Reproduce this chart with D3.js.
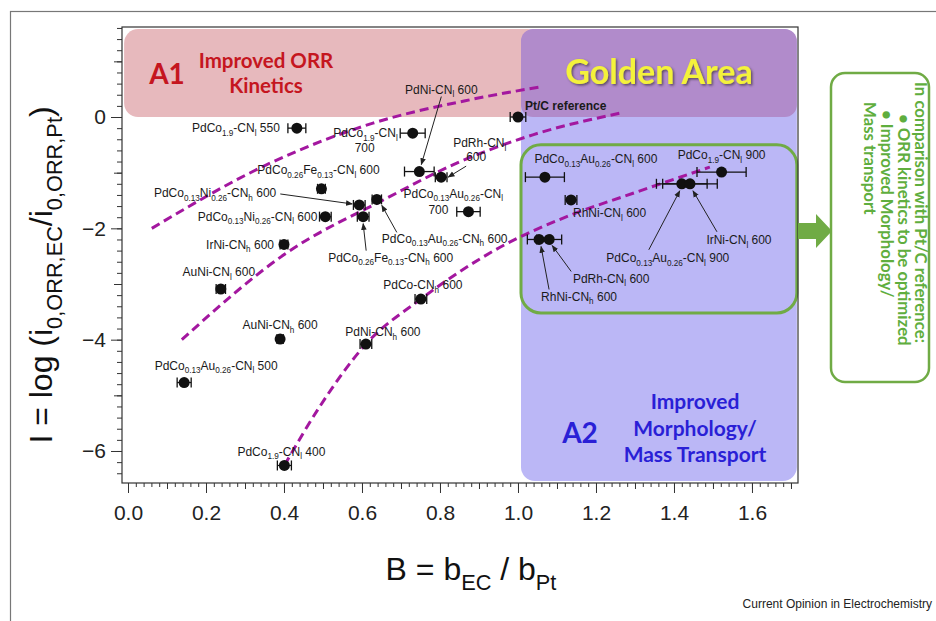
<!DOCTYPE html>
<html>
<head>
<meta charset="utf-8">
<script src="https://cdn.jsdelivr.net/npm/d3@7"></script>
<style>
  body { margin: 0; background: #fff; }
  svg text { font-family: "Liberation Sans", Arial, sans-serif; }
  .note { font-family: Lato, "Open Sans", sans-serif; font-weight: bold; }
</style>
</head>
<body>
<svg width="936" height="621"></svg>
<script>
// catalysts, {..} = subscript, \n = second line
let names = [
  'PdCo{1.9}-CN{l} 550', 'PdCo{1.9}-CN{l}\n700', 'PdNi-CN{l} 600', 'PdRh-CN{l}\n600',
  'PdCo{0.26}Fe{0.13}-CN{l} 600', 'PdCo{0.13}Ni{0.26}-CN{h} 600', 'PdCo{0.13}Au{0.26}-CN{h} 600',
  'PdCo{0.13}Ni{0.26}-CN{l} 600', 'PdCo{0.26}Fe{0.13}-CN{h} 600', 'PdCo{0.13}Au{0.26}-CN{l}\n700',
  'IrNi-CN{h} 600', 'AuNi-CN{l} 600', 'PdCo-CN{h} 600', 'AuNi-CN{h} 600', 'PdNi-CN{h} 600',
  'PdCo{0.13}Au{0.26}-CN{l} 500', 'PdCo{1.9}-CN{l} 400', 'Pt/C reference',
  'PdCo{0.13}Au{0.26}-CN{l} 600', 'RhNi-CN{l} 600', 'PdCo{1.9}-CN{l} 900',
  'PdCo{0.13}Au{0.26}-CN{l} 900', 'IrNi-CN{l} 600', 'RhNi-CN{h} 600', 'PdRh-CN{l} 600'
];
// B = b_EC / b_Pt
let bValues = [0.433, 0.730, 0.747, 0.803, 0.496, 0.593, 0.638, 0.506, 0.603, 0.873,
               0.400, 0.238, 0.751, 0.390, 0.610, 0.144, 0.401, 1.000,
               1.069, 1.136, 1.522, 1.420, 1.441, 1.054, 1.080];
// I = log(i0 ratio)
let iValues = [-0.20, -0.29, -0.98, -1.08, -1.29, -1.58, -1.48, -1.79, -1.79, -1.70,
               -2.29, -3.09, -3.27, -3.99, -4.08, -4.77, -6.26, 0.00,
               -1.08, -1.49, -0.99, -1.20, -1.20, -2.20, -2.20];
// horizontal error (+/-) on B
let bErrors = [0.023, 0.032, 0.038, 0.015, 0.010, 0.015, 0.012, 0.015, 0.015, 0.030,
               0.010, 0.012, 0.015, 0.008, 0.015, 0.018, 0.018, 0.020,
               0.050, 0.015, 0.063, 0.065, 0.070, 0.030, 0.032];

// dashed trend lines [B, I]
let trend1 = [[0.061, -2.0], [0.364, -0.83], [0.628, -0.11], [0.877, 0.31], [1.056, 0.54]];
let trend2 = [[0.138, -4.0], [0.407, -2.44], [0.663, -1.46], [0.833, -0.86], [1.038, -0.32], [1.262, 0.07]];
let trend3 = [[0.401, -6.26], [0.49, -5.22], [0.61, -4.08], [0.751, -3.27], [0.954, -2.34],
              [1.125, -1.79], [1.295, -1.37], [1.492, -0.90]];

let xTicks = [0, 0.2, 0.4, 0.6, 0.8, 1.0, 1.2, 1.4, 1.6];
let yTicks = [0, -2, -4, -6];

// label placement: per line [dx, dy, anchor] from the dot, optional arrow [x1,y1,x2,y2]
let labelLayout = [
  {lines: [[-17, 0, 'end']]},
  {lines: [[-15, 0, 'end'], [-48, 15, 'middle']]},
  {lines: [[22, -82, 'middle']], arrow: [22, -75, 2, -7]},
  {lines: [[12, -34, 'start'], [35, -20, 'middle']], arrow: [25, -11, 7, 0]},
  {lines: [[-3, -19, 'middle']]},
  {lines: [[-83, -12, 'end']], arrow: [-79, -11, -7, -1]},
  {lines: [[5, 39, 'start']], arrow: [20, 33, 5, 6]},
  {lines: [[-8, 0, 'end']]},
  {lines: [[-35, 41, 'start']], arrow: [3, 34, 0, 7]},
  {lines: [[-65, -18, 'start'], [-30, -2, 'middle']]},
  {lines: [[-10, 0, 'end']]},
  {lines: [[-2, -17, 'middle']]},
  {lines: [[2, -14, 'middle']]},
  {lines: [[0, -14, 'middle']]},
  {lines: [[17, -12, 'middle']]},
  {lines: [[32, -17, 'middle']]},
  {lines: [[-3, -14, 'middle']]},
  {lines: [[7, -11, 'start']], bold: true},
  {lines: [[51, -18, 'middle']]},
  {lines: [[2, 13, 'start']]},
  {lines: [[0, -17, 'middle']]},
  {lines: [[-14, 74, 'middle']], arrow: [-33, 66, -2, 7]},
  {lines: [[49, 56, 'middle']], arrow: [27, 48, 3, 7]},
  {lines: [[40, 57, 'middle']], arrow: [10, 50, 2, 7]},
  {lines: [[62, 39, 'middle']], arrow: [22, 32, 3, 6]}
];

let svg = d3.select('svg');
let margin = {top: 27, right: 138, bottom: 138, left: 122},
    width = +svg.attr('width') - margin.left - margin.right,
    height = +svg.attr('height') - margin.top - margin.bottom;

// outer figure border
svg.append('rect').attr('x', 10.5).attr('y', 11.5).attr('width', 1000).attr('height', 1000)
  .attr('fill', 'none').attr('stroke', '#777').attr('stroke-width', 1.2);

let defs = svg.append('defs');
defs.append('marker').attr('id', 'head').attr('viewBox', '0 0 10 10')
  .attr('refX', 9).attr('refY', 5).attr('markerWidth', 7).attr('markerHeight', 7)
  .attr('orient', 'auto')
  .append('path').attr('d', 'M0,1 L10,5 L0,9 Z').attr('fill', '#222');
let shadow = defs.append('filter').attr('id', 'shadow');
shadow.append('feDropShadow').attr('dx', 1.5).attr('dy', 1.5).attr('stdDeviation', 0.8)
  .attr('flood-color', '#4a3a4a').attr('flood-opacity', 0.8);

let g = svg.append('g').attr('transform', `translate(${margin.left},${margin.top})`);

let x = d3.scaleLinear().domain([-0.0154, 1.718]).range([0, width]);
let y = d3.scaleLinear().domain([-6.575, 1.617]).range([height, 0]);

// shaded regions
let rL = x(1.0077), rR = x(1.715), rTop = y(1.58), rZero = y(0);
g.append('rect').attr('x', x(-0.01)).attr('y', rTop).attr('width', x(1.06) - x(-0.01))
  .attr('height', rZero - rTop).attr('rx', 14).attr('fill', '#e7b9bd');
g.append('rect').attr('x', rL).attr('y', rTop).attr('width', rR - rL)
  .attr('height', y(-6.54) - rTop).attr('rx', 14).attr('fill', '#bbb7f6');
g.append('rect').attr('x', rL).attr('y', rTop).attr('width', rR - rL)
  .attr('height', rZero - rTop).attr('rx', 12).attr('fill', '#b18bcb');
g.append('rect').attr('x', rL).attr('y', y(-0.5)).attr('width', rR - rL)
  .attr('height', y(-3.52) - y(-0.5)).attr('rx', 20)
  .attr('fill', 'none').attr('stroke', '#70ab45').attr('stroke-width', 3);

// axes with major / medium / minor ticks
function ticksLeft(vals, size) {
  return d3.axisLeft(y).tickValues(vals).tickSize(size).tickFormat('');
}
function ticksBottom(vals, size) {
  return d3.axisBottom(x).tickValues(vals).tickSize(size).tickFormat('');
}
let yMinor = d3.range(-32, 9).map(v => v / 5);
let xMinor = d3.range(0, 86).map(v => v / 50);
let xMid = d3.range(0, 18).map(v => v / 10);
[ticksLeft(yMinor, 5), ticksLeft([-1, -3, -5, 1], 8)].forEach(a =>
  g.append('g').call(a).call(s => s.select('.domain').remove()));
[ticksBottom(xMinor, 4), ticksBottom(xMid, 6)].forEach(a =>
  g.append('g').attr('transform', `translate(0,${height})`).call(a)
    .call(s => s.select('.domain').remove()));

g.append('g')
  .call(d3.axisLeft(y).tickValues(yTicks).tickSize(11).tickPadding(5).tickFormat(d3.format('d')))
  .call(s => s.select('.domain').remove())
  .selectAll('text').attr('font-size', 21).attr('fill', '#222')
  .attr('font-family', '"Liberation Sans", Arial, sans-serif');
g.append('g').attr('transform', `translate(0,${height})`)
  .call(d3.axisBottom(x).tickValues(xTicks).tickSize(10).tickPadding(12).tickFormat(d3.format('.1f')))
  .call(s => s.select('.domain').remove())
  .selectAll('text').attr('font-size', 21).attr('fill', '#222')
  .attr('font-family', '"Liberation Sans", Arial, sans-serif');
g.selectAll('.tick line').attr('stroke', '#333');

g.append('rect').attr('width', width).attr('height', height)
  .attr('fill', 'none').attr('stroke', '#333').attr('stroke-width', 1.2);

// region captions
let note = (tx, ty, str, size, color) => g.append('text').attr('class', 'note')
  .attr('x', tx).attr('y', ty).attr('text-anchor', 'middle').attr('dominant-baseline', 'central')
  .attr('font-size', size).attr('fill', color).text(str);
note(45, 46, 'A1', 28, '#c5161f');
note(144, 33, 'Improved ORR', 20.5, '#c5161f');
note(144, 58, 'Kinetics', 20.5, '#c5161f');
note(537, 43, 'Golden Area', 34, '#f4f23a').attr('filter', 'url(#shadow)');
note(458, 405, 'A2', 28, '#2a1fd6');
note(573, 373, 'Improved', 21, '#2a1fd6');
note(573, 400, 'Morphology/', 21, '#2a1fd6');
note(573, 426, 'Mass Transport', 21, '#2a1fd6');

// dashed trend lines
let line = d3.line().x(d => x(d[0])).y(d => y(d[1])).curve(d3.curveMonotoneX);
[trend1, trend2, trend3].forEach(t =>
  g.append('path').datum(t).attr('d', line).attr('fill', 'none')
    .attr('stroke', '#a3179f').attr('stroke-width', 3).attr('stroke-dasharray', '9,5'));

// error bars and points
let pts = names.map((n, i) => ({name: n, b: bValues[i], v: iValues[i], e: bErrors[i], lay: labelLayout[i]}));
let bars = g.append('g').attr('stroke', '#111').attr('stroke-width', 1.3);
pts.forEach(d => {
  let cy = y(d.v), x1 = x(d.b - d.e), x2 = x(d.b + d.e);
  bars.append('line').attr('x1', x1).attr('x2', x2).attr('y1', cy).attr('y2', cy);
  [x1, x2].forEach(cx => bars.append('line').attr('x1', cx).attr('x2', cx)
    .attr('y1', cy - 5).attr('y2', cy + 5));
});
g.selectAll('circle.pt').data(pts).enter().append('circle').attr('class', 'pt')
  .attr('cx', d => x(d.b)).attr('cy', d => y(d.v)).attr('r', 5.5).attr('fill', '#111');

// labels with subscripts
function rich(sel, str, size) {
  let shift = 0;
  str.split(/(\{[^}]*\})/).filter(s => s.length).forEach(part => {
    let sub = part[0] === '{';
    let target = sub ? size * 0.3 : 0;
    sel.append('tspan').attr('dy', target - shift)
      .attr('font-size', sub ? size * 0.68 : size)
      .text(sub ? part.slice(1, -1) : part);
    shift = target;
  });
}
pts.forEach(d => {
  let px = x(d.b), py = y(d.v);
  d.name.split('\n').forEach((txt, k) => {
    let [dx, dy, anchor] = d.lay.lines[k];
    let t = g.append('text').attr('x', px + dx).attr('y', py + dy + 4.2)
      .attr('text-anchor', anchor).attr('font-size', 12).attr('fill', '#1a1a1a')
      .attr('font-weight', d.lay.bold ? 'bold' : 'normal');
    rich(t, txt, 12);
  });
  if (d.lay.arrow) {
    let a = d.lay.arrow;
    g.append('line').attr('x1', px + a[0]).attr('y1', py + a[1])
      .attr('x2', px + a[2]).attr('y2', py + a[3])
      .attr('stroke', '#222').attr('stroke-width', 1).attr('marker-end', 'url(#head)');
  }
});

// axis titles
let yTitle = svg.append('text').attr('transform', 'translate(52,275) rotate(-90)')
  .attr('text-anchor', 'middle').attr('font-size', 32).attr('fill', '#111');
rich(yTitle, 'I = log (i{0,ORR,EC}/i{0,ORR,Pt})', 32);
let xTitle = svg.append('text').attr('x', 471).attr('y', 580)
  .attr('text-anchor', 'middle').attr('font-size', 32).attr('fill', '#111');
rich(xTitle, 'B = b{EC} / b{Pt}', 32);

// green arrow and side box
let ay = y(-2.05) + margin.top;
svg.append('path')
  .attr('d', `M798,${ay - 8} L816,${ay - 8} L816,${ay - 17} L832,${ay} L816,${ay + 17} L816,${ay + 8} L798,${ay + 8} Z`)
  .attr('fill', '#70ab45');
svg.append('rect').attr('x', 831).attr('y', 73).attr('width', 98).attr('height', 309).attr('rx', 14)
  .attr('fill', '#fff').attr('stroke', '#70ab45').attr('stroke-width', 2.5);
let sideLines = [
  ['In comparison with Pt/C reference:', 921, 82],
  ['\u2022 ORR kinetics to be optimized', 904, 114],
  ['\u2022 Improved Morphology/', 887, 110],
  ['Mass transport', 870, 102]
];
sideLines.forEach(([s, cx, top]) =>
  svg.append('text').attr('class', 'note').attr('transform', `translate(${cx},${top}) rotate(90)`)
    .attr('dominant-baseline', 'central').attr('font-size', 16.8).attr('fill', '#5fae3e').text(s));

svg.append('text').attr('x', 932).attr('y', 608).attr('text-anchor', 'end')
  .attr('font-size', 12).attr('fill', '#222').text('Current Opinion in Electrochemistry');
</script>
</body>
</html>
